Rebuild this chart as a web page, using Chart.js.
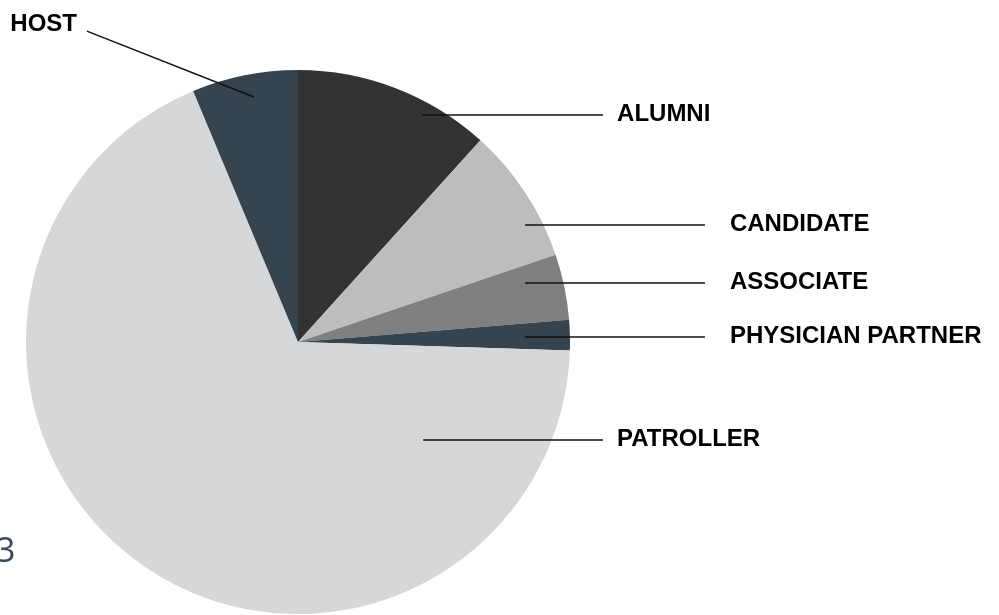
<!DOCTYPE html>
<html>
<head>
<meta charset="utf-8">
<script src="https://cdn.jsdelivr.net/npm/chart.js@4.4.0/dist/chart.umd.min.js"></script>
<style>
  html, body { margin: 0; padding: 0; background: #fff; }
  #wrap { position: relative; width: 999px; height: 615px; overflow: hidden; }
</style>
</head>
<body>
<div id="wrap"><canvas id="myChart"></canvas></div>
<script>
var labels = ["ALUMNI", "CANDIDATE", "ASSOCIATE", "PHYSICIAN PARTNER", "PATROLLER", "HOST"];
var shares = [11.7, 8.1, 3.9, 1.8, 68.2, 6.3];
var sliceColors = ["#333333", "#bcbdbf", "#808080", "#36444f", "#d6d7d9", "#36444f"];

// leader lines: start/end in units of the pie radius from its centre
var leaders = [
  { sx: 0.456, sy: -0.835, ex: 1.121, ey: -0.835, tx: 1.173, align: "left" },
  { sx: 0.835, sy: -0.430, ex: 1.496, ey: -0.430, tx: 1.588, align: "left" },
  { sx: 0.835, sy: -0.217, ex: 1.496, ey: -0.217, tx: 1.588, align: "left" },
  { sx: 0.835, sy: -0.018, ex: 1.496, ey: -0.018, tx: 1.588, align: "left" },
  { sx: 0.460, sy: 0.360, ex: 1.121, ey: 0.360, tx: 1.173, align: "left" },
  { sx: -0.162, sy: -0.901, ex: -0.776, ey: -1.143, tx: -0.8125, align: "right" }
];

var leaderPlugin = {
  id: "leaders",
  afterDatasetsDraw: function(chart) {
    var ctx = chart.ctx;
    var arc = chart.getDatasetMeta(0).data[0];
    var cx = arc.x, cy = arc.y, r = arc.outerRadius;
    ctx.save();
    ctx.strokeStyle = "#111";
    ctx.lineWidth = 1.5;
    ctx.fillStyle = "#000";
    ctx.font = "bold 24px 'Liberation Sans', Arial, sans-serif";
    ctx.textBaseline = "alphabetic";
    leaders.forEach(function(l, i) {
      ctx.beginPath();
      ctx.moveTo(cx + l.sx * r, cy + l.sy * r);
      ctx.lineTo(cx + l.ex * r, cy + l.ey * r);
      ctx.stroke();
      ctx.textAlign = l.align;
      var ty = l.align === "right" ? cy + l.ey * r : cy + l.ey * r + 6;
      ctx.fillText(chart.data.labels[i], cx + l.tx * r, ty);
    });
    // stray page number at the lower left
    ctx.fillStyle = "#37495a";
    ctx.font = "34px 'Open Sans', sans-serif";
    ctx.textAlign = "left";
    ctx.fillText("3", -4, 562);
    ctx.restore();
  }
};

new Chart("myChart", {
  type: "pie",
  data: {
    labels: labels,
    datasets: [{
      data: shares,
      backgroundColor: sliceColors,
      borderWidth: 0
    }]
  },
  options: {
    responsive: true,
    maintainAspectRatio: false,
    animation: false,
    layout: { padding: { left: 26, right: 429, top: 70, bottom: 1 } },
    plugins: {
      legend: { display: false },
      tooltip: { enabled: false }
    }
  },
  plugins: [leaderPlugin]
});
</script>
</body>
</html>
